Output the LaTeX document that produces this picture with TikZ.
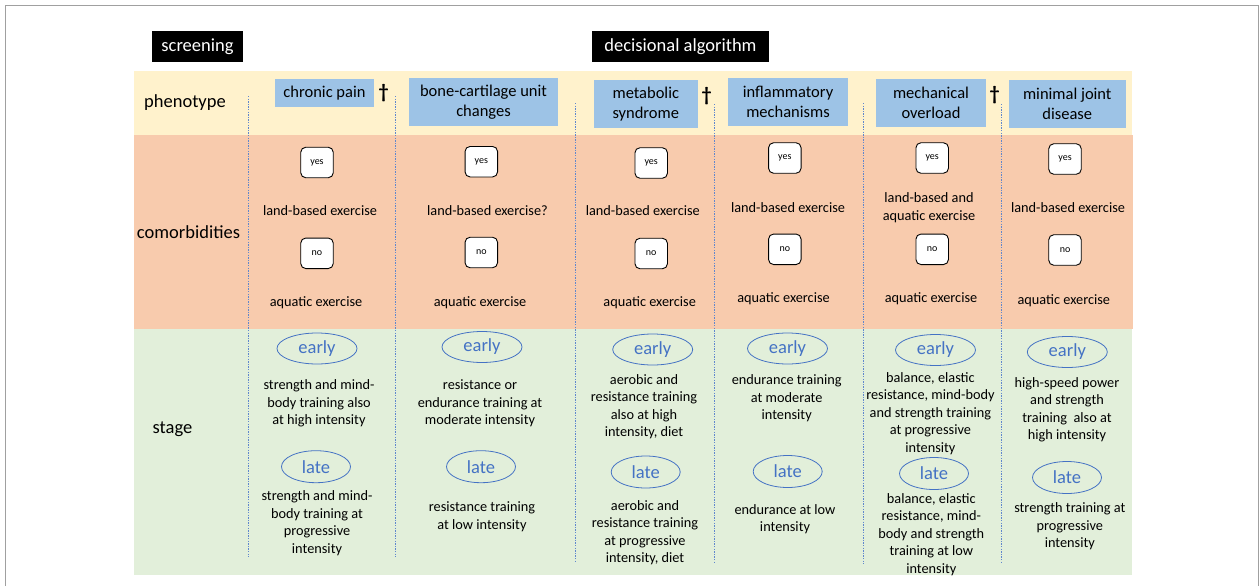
\documentclass[tikz,border=0pt]{standalone}
\usepackage{fontspec}
\setmainfont{Carlito}
\usetikzlibrary{shapes.geometric}
\definecolor{bandY}{HTML}{FFF2CC}
\definecolor{bandO}{HTML}{F8CBAD}
\definecolor{bandG}{HTML}{E2EFDA}
\definecolor{boxblue}{HTML}{9DC3E6}
\definecolor{ovalblue}{HTML}{4472C4}
\definecolor{framegray}{HTML}{A0A0A0}
\begin{document}
\begin{tikzpicture}[x=1pt,y=-1pt,
  hdr/.style={fill=black,text=white,font=\fontsize{18.5}{22}\selectfont,inner sep=0pt,minimum height=31pt},
  phen/.style={fill=boxblue,font=\fontsize{16.5}{20}\selectfont,align=center,inner sep=0pt},
  rowlbl/.style={font=\fontsize{18.5}{22}\selectfont,inner sep=0pt},
  yn/.style={draw=black,fill=white,rounded corners=5pt,line width=0.9pt,minimum width=32.5pt,minimum height=30.5pt,inner sep=0pt,font=\fontsize{10}{12}\selectfont},
  body/.style={font=\fontsize{14.3}{17.5}\selectfont,align=center,inner sep=0pt},
  stg/.style={ellipse,draw=ovalblue,text=ovalblue,line width=0.8pt,inner sep=0pt,font=\fontsize{18.5}{22}\selectfont},
  earlyo/.style={stg,minimum width=80pt,minimum height=31pt},
  lateo/.style={stg,minimum width=69pt,minimum height=32pt},
  sepline/.style={draw=ovalblue!85,dash pattern=on 1.3pt off 1.3pt,line width=0.75pt},
  dag/.style={font=\fontsize{20}{24}\selectfont\bfseries,inner sep=0pt}]
\useasboundingbox (0,0) rectangle (1260,586);
% frame
\draw[framegray,line width=1pt] (5.5,586) -- (5.5,5.5) -- (1258.5,5.5) -- (1258.5,586);
% bands
\fill[bandY] (134,71) rectangle (1132,135);
\fill[bandO] (134,135) rectangle (1133,329);
\fill[bandG] (134,329) rectangle (1132,575);
% separators
\draw[sepline] (248,96) -- (248,557);
\draw[sepline] (395.5,96) -- (395.5,557);
\draw[sepline] (575.5,103) -- (575.5,562);
\draw[sepline] (714.5,104) -- (714.5,563);
\draw[sepline] (863,103) -- (863,564);
\draw[sepline] (1001,104) -- (1001,563);
% headers
\node[hdr,minimum width=91pt] (scr) at (197.5,46.5) {screening};
\node[hdr,minimum width=177pt] (dec) at (680.5,46.5) {decisional algorithm};
% row labels
\node[rowlbl] (lphen) at (185,103) {phenotype};
\node[rowlbl] (lcom) at (188.5,232.5) {comorbidities};
\node[rowlbl] (lstage) at (172.5,429) {stage};
% phenotype boxes
\node[phen,minimum width=99pt,minimum height=27.7pt] (cp) at (324.5,92.9) {chronic pain};
\node[dag] (d1) at (383.5,93) {†};
\node[phen,minimum width=149pt,minimum height=47.4pt] (bc) at (483.5,102) {bone-cartilage unit\\changes};
\node[phen,minimum width=103.5pt,minimum height=47.7pt] (ms) at (645.8,103.9) {metabolic\\syndrome};
\node[dag] (d2) at (706.7,96) {†};
\node[phen,minimum width=120pt,minimum height=47.4pt] (im) at (788,102) {inflammatory\\mechanisms};
\node[phen,minimum width=110pt,minimum height=47.7pt] (mo) at (931,102.9) {mechanical\\overload};
\node[dag] (d3) at (994.7,95) {†};
\node[phen,minimum width=116.6pt,minimum height=47.7pt] (mj) at (1067.3,103.9) {minimal joint\\disease};
% comorbidities column 1
\node[yn] (y1) at (317,162.5) {yes};
\node[body] (l1) at (320,211) {land-based exercise};
\node[yn] (n1) at (317,253.3) {no};
\node[body] (a1) at (316,303.2) {aquatic exercise};
% column 2
\node[yn] (y2) at (481.3,161.7) {yes};
\node[body] (l2) at (487.5,210.5) {land-based exercise?};
\node[yn] (n2) at (481.3,252.5) {no};
\node[body] (a2) at (480,303.2) {aquatic exercise};
% column 3
\node[yn] (y3) at (651.2,163) {yes};
\node[body] (l3) at (642.8,210.5) {land-based exercise};
\node[yn] (n3) at (651.2,253.5) {no};
\node[body] (a3) at (649.7,302.8) {aquatic exercise};
% column 4
\node[yn] (y4) at (784.8,158) {yes};
\node[body] (l4) at (788,207.5) {land-based exercise};
\node[yn] (n4) at (784.8,249.3) {no};
\node[body] (a4) at (783.5,298.8) {aquatic exercise};
% column 5
\node[yn] (y5) at (932.2,158) {yes};
\node[body] (l5) at (929,207.5) {land-based and\\aquatic exercise};
\node[yn] (n5) at (932.2,249.3) {no};
\node[body] (a5) at (931,298.8) {aquatic exercise};
% column 6
\node[yn] (y6) at (1065,159) {yes};
\node[body] (l6) at (1068,207.5) {land-based exercise};
\node[yn] (n6) at (1065,250) {no};
\node[body] (a6) at (1063.8,300.5) {aquatic exercise};
% stage column 1
\node[earlyo] (e1) at (317,348.5) {early};
\node[body] (et1) at (319,403.5) {strength and mind-\\body training also\\at high intensity};
\node[lateo] (t1) at (316,466.7) {late};
\node[body] (lt1) at (317,523.2) {strength and mind-\\body training at\\progressive\\intensity};
% stage column 2
\node[earlyo] (e2) at (482,347) {early};
\node[body] (et2) at (480,403.5) {resistance or\\endurance training at\\moderate intensity};
\node[lateo] (t2) at (481,466.7) {late};
\node[body] (lt2) at (482,516.5) {resistance training\\at low intensity};
% stage column 3
\node[earlyo] (e3) at (652.7,349.5) {early};
\node[body] (et3) at (644,406.5) {aerobic and\\resistance training\\also at high\\intensity, diet};
\node[lateo] (t3) at (645.7,472) {late};
\node[body] (lt3) at (645,532.5) {aerobic and\\resistance training\\at progressive\\intensity, diet};
% stage column 4
\node[earlyo] (e4) at (787.5,348.5) {early};
\node[body] (et4) at (786.7,398.5) {endurance training\\at moderate\\intensity};
\node[lateo] (t4) at (787.7,471.5) {late};
\node[body] (lt4) at (785,519) {endurance at low\\intensity};
% stage column 5
\node[earlyo] (e5) at (935.5,350) {early};
\node[body] (et5) at (930.4,413.5) {balance, elastic\\resistance, mind-body\\and strength training\\at progressive\\intensity};
\node[lateo] (t5) at (934,473.5) {late};
\node[body] (lt5) at (931.3,534.5) {balance, elastic\\resistance, mind-\\body and strength\\training at low\\intensity};
% stage column 6
\node[earlyo] (e6) at (1067.3,352) {early};
\node[body] (et6) at (1067,410) {high-speed power\\and strength\\training\ \ also at\\high intensity};
\node[lateo] (t6) at (1067,477.5) {late};
\node[body] (lt6) at (1069.8,526.5) {strength training at\\progressive\\intensity};
\end{tikzpicture}
\end{document}
